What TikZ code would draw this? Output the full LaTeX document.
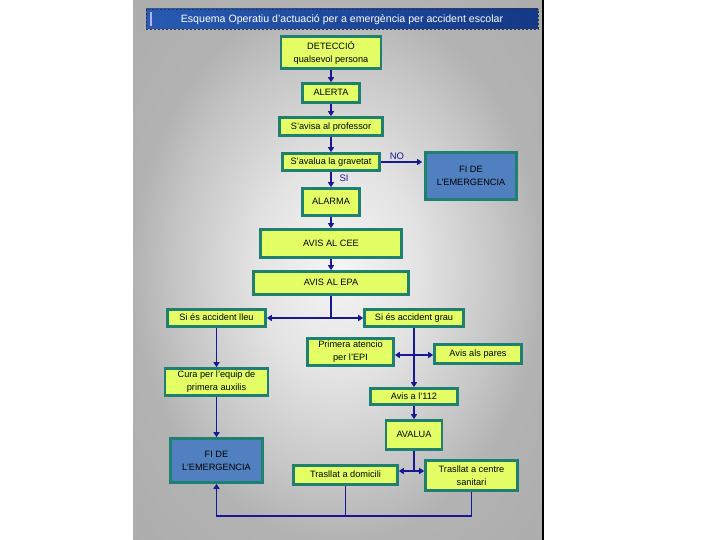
\documentclass[tikz,border=0pt]{standalone}
\usepackage{fontspec}
\setmainfont{Liberation Sans}
\usetikzlibrary{arrows.meta}
\definecolor{boxfill}{RGB}{228,255,102}
\definecolor{boxedge}{RGB}{32,128,112}
\definecolor{bluefill}{RGB}{80,128,192}
\definecolor{linecol}{RGB}{24,24,150}
\definecolor{titlel}{RGB}{40,90,178}
\definecolor{titler}{RGB}{20,56,134}
\pgfdeclareradialshading{bgsh}{\pgfpoint{0bp}{0bp}}{color(0bp)=(black!4); color(10bp)=(black!11); color(20bp)=(black!23); color(25bp)=(black!30); color(50bp)=(black!35)}
\begin{document}
\begin{tikzpicture}[x=1pt,y=-1pt,
 box/.style={draw=boxedge, line width=2.6pt, fill=boxfill, inner sep=0pt, text height=6.8pt, text depth=1.2pt, font=\fontsize{9.2}{11}\selectfont},
 box2/.style={draw=boxedge, line width=2.6pt, fill=boxfill, inner sep=0pt, align=center, font=\fontsize{9.2}{13}\selectfont},
 bbox/.style={box2, fill=bluefill},
 arr/.style={draw=linecol, line width=1.3pt, -{Triangle[length=5pt,width=6pt]}},
 ln/.style={draw=linecol, line width=1.3pt},
 lab/.style={text=linecol, font=\fontsize{9.5}{11}\selectfont}]
\useasboundingbox (0,0) rectangle (720,540);
\fill[white] (0,0) rectangle (720,540);
\shade[shading=bgsh] (133,0) rectangle (543,540);
\draw[black, line width=1.6pt] (543,0) -- (543,540);
% title
\shade[left color=titlel, right color=titler] (146,9) rectangle (538,29);
\draw[black!80, line width=0.8pt, dash pattern=on 2pt off 2pt] (146,9) rectangle (538,29);
\draw[blue!30!white, line width=1.2pt] (151,12) -- (151,26);
\node[text=white, font=\fontsize{10.6}{12}\selectfont] (title) at (342,19.5) {Esquema Operatiu d'actuació per a emergència per accident escolar};
% boxes
\node[box2, minimum width=100pt, minimum height=32pt] (det) at (331,52.5) {DETECCIÓ\\qualsevol persona};
\node[box, minimum width=57pt, minimum height=19pt] (alerta) at (331,93) {ALERTA};
\node[box, minimum width=103pt, minimum height=18pt] (prof) at (331,126.5) {S'avisa al professor};
\node[box, minimum width=97pt, minimum height=17pt] (grav) at (331,162) {S'avalua la gravetat};
\node[bbox, minimum width=91pt, minimum height=47pt] (fi1) at (471,176) {FI DE\\L'EMERGENCIA};
\node[box, minimum width=57pt, minimum height=27pt] (alarma) at (331,202) {ALARMA};
\node[box, minimum width=141pt, minimum height=28pt] (cee) at (331,243.5) {AVIS AL CEE};
\node[box, minimum width=155pt, minimum height=23pt] (epa) at (331,283) {AVIS AL EPA};
\node[box, minimum width=98pt, minimum height=17pt] (lleu) at (216.5,318) {Si és accident lleu};
\node[box, minimum width=99pt, minimum height=17pt] (grau) at (414,318) {Si és accident grau};
\node[box2, minimum width=86pt, minimum height=27pt] (epi) at (350.5,352) {Primera atencio\\per l'EPI};
\node[box, minimum width=87pt, minimum height=19pt] (pares) at (478,354) {Avis als pares};
\node[box2, minimum width=103pt, minimum height=27pt] (cura) at (216.5,382) {Cura per l'equip de\\primera auxilis};
\node[box, minimum width=87pt, minimum height=16pt] (a112) at (414,396.5) {Avis a l'112};
\node[box, minimum width=56pt, minimum height=29pt] (avalua) at (414,435) {AVALUA};
\node[bbox, minimum width=92pt, minimum height=44pt] (fi2) at (216.5,460.5) {FI DE\\L'EMERGENCIA};
\node[box, minimum width=104pt, minimum height=19pt] (dom) at (345.5,475) {Trasllat a domicili};
\node[box2, minimum width=92pt, minimum height=30pt] (san) at (471.5,475.5) {Trasllat a centre\\sanitari};
% connectors
\draw[arr] (det.south) -- (alerta.north);
\draw[arr] (alerta.south) -- (prof.north);
\draw[arr] (prof.south) -- (grav.north);
\draw[arr] (grav.south) -- (alarma.north);
\node[lab] (si) at (344,178) {SI};
\draw[arr, shorten >=2pt] (grav.east) -- (grav.east -| fi1.west);
\node[lab] (no) at (397,156) {NO};
\draw[arr] (alarma.south) -- (cee.north);
\draw[arr] (cee.south) -- (epa.north);
\coordinate (j1) at (331,318);
\draw[ln] (epa.south) -- (j1);
\draw[arr] (j1) -- (lleu.east);
\draw[arr] (j1) -- (grau.west);
\draw[arr] (lleu.south) -- (cura.north);
\draw[arr] (cura.south) -- (fi2.north);
\draw[arr] (grau.south) -- (a112.north);
\coordinate (j2) at (414,355);
\draw[arr] (j2) -- (j2 -| epi.east);
\draw[arr] (j2) -- (j2 -| pares.west);
\draw[arr] (a112.south) -- (avalua.north);
\coordinate (j3) at (414,471);
\draw[ln] (avalua.south) -- (j3);
\draw[arr] (j3) -- (j3 -| dom.east);
\draw[arr] (j3) -- (j3 -| san.west);
\coordinate (bot) at (0,516);
\draw[ln] (dom.south) -- (dom.south |- bot);
\draw[arr] (san.south) -- (san.south |- bot) -| (fi2.south);
\end{tikzpicture}
\end{document}
